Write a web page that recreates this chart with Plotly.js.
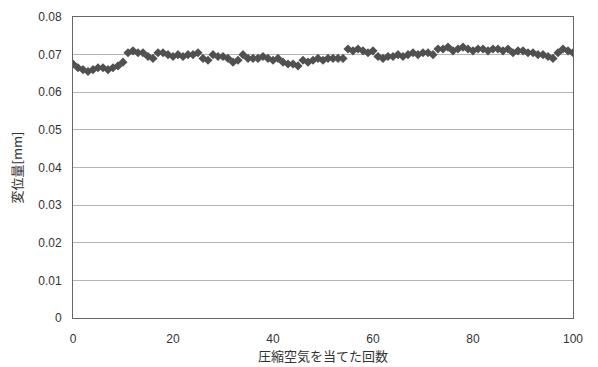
<!DOCTYPE html>
<html><head><meta charset="utf-8">
<script src="https://cdn.plot.ly/plotly-3.0.1.min.js"></script>
<style>html,body{margin:0;padding:0;background:#fff;}</style>
</head><body><div id="chart" style="width:598px;height:367px;"></div>
<script>
const counts = Array.from({length: 101}, (_, i) => i);
const displacement = [
  0.0675, 0.0665, 0.0660, 0.0655, 0.0660, 0.0665, 0.0665, 0.0660, 0.0665, 0.0670,
  0.0680, 0.0705, 0.0710, 0.0705, 0.0705, 0.0695, 0.0690, 0.0705, 0.0705, 0.0700,
  0.0695, 0.0700, 0.0695, 0.0700, 0.0700, 0.0705, 0.0690, 0.0685, 0.0700, 0.0695,
  0.0695, 0.0690, 0.0680, 0.0685, 0.0700, 0.0690, 0.0690, 0.0690, 0.0695, 0.0690,
  0.0685, 0.0690, 0.0680, 0.0675, 0.0675, 0.0670, 0.0685, 0.0680, 0.0685, 0.0690,
  0.0685, 0.0690, 0.0690, 0.0690, 0.0690, 0.0715, 0.0710, 0.0715, 0.0710, 0.0705,
  0.0710, 0.0695, 0.0690, 0.0695, 0.0695, 0.0700, 0.0695, 0.0700, 0.0705, 0.0700,
  0.0705, 0.0705, 0.0700, 0.0715, 0.0715, 0.0720, 0.0710, 0.0715, 0.0720, 0.0715,
  0.0710, 0.0715, 0.0715, 0.0710, 0.0715, 0.0715, 0.0710, 0.0715, 0.0705, 0.0710,
  0.0710, 0.0705, 0.0705, 0.0700, 0.0700, 0.0695, 0.0690, 0.0705, 0.0715, 0.0710,
  0.0705
];
const yTicks = [0, 0.01, 0.02, 0.03, 0.04, 0.05, 0.06, 0.07, 0.08];
const yTickText = ["0", "0.01", "0.02", "0.03", "0.04", "0.05", "0.06", "0.07", "0.08"];
const xTicks = [0, 20, 40, 60, 80, 100];
const xTitle = "圧縮空気を当てた回数";
const yTitle = "変位量[mm]";

const trace = {
  x: counts, y: displacement, type: "scatter", mode: "markers",
  marker: {symbol: "diamond", size: 7, color: "#505050", line: {width: 0}},
  hoverinfo: "x+y"
};
const layout = {
  width: 598, height: 367,
  margin: {l: 73, r: 25, t: 17, b: 49},
  paper_bgcolor: "#fff", plot_bgcolor: "#fff",
  showlegend: false,
  font: {family: "Liberation Sans, Arial, sans-serif", size: 12, color: "#333"},
  xaxis: {
    range: [0, 100], tickvals: xTicks, ticks: "", ticklabelstandoff: 10,
    showgrid: false, zeroline: false, showline: true, linecolor: "#666", linewidth: 1,
    mirror: true,
    title: {text: xTitle, font: {family: "Noto Sans CJK JP", size: 13, color: "#333"}, standoff: 2}
  },
  yaxis: {
    range: [0, 0.08], tickvals: yTicks, ticktext: yTickText, ticks: "", ticklabelstandoff: 8,
    showgrid: true, gridcolor: "#b5b5b5", gridwidth: 1, zeroline: false,
    showline: true, linecolor: "#666", linewidth: 1, mirror: true,
    title: {text: yTitle, font: {family: "Noto Sans CJK JP", size: 13, color: "#333"}, standoff: 12}
  }
};
Plotly.newPlot("chart", [trace], layout, {displayModeBar: false, staticPlot: true});
</script></body></html>
